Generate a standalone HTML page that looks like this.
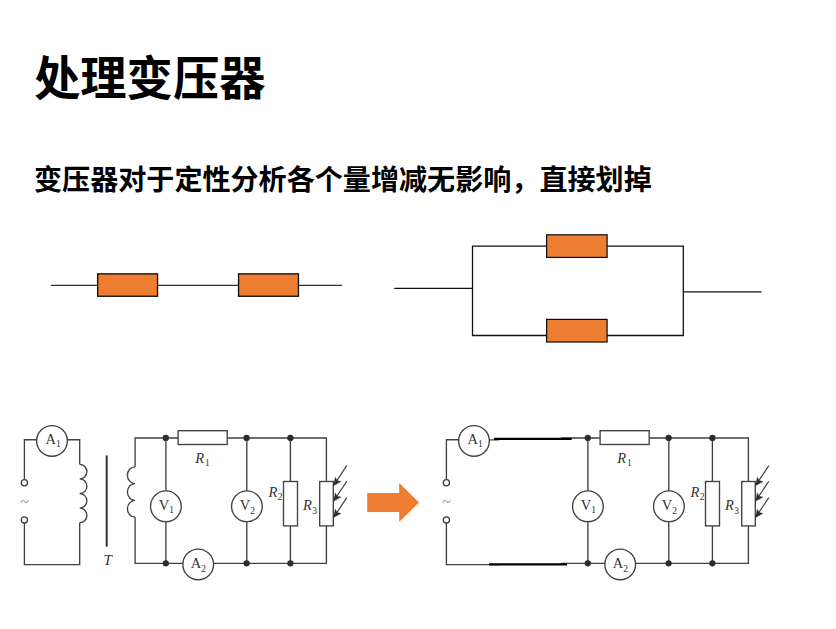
<!DOCTYPE html>
<html lang="zh"><head><meta charset="utf-8"><title>处理变压器</title>
<style>
html,body{margin:0;padding:0;background:#fff;}
body{position:relative;width:836px;height:629px;overflow:hidden;font-family:"Liberation Sans","Noto Sans CJK SC",sans-serif;}
svg{position:absolute;left:0;top:0;display:block;}
</style></head><body>
<svg width="836" height="629" viewBox="0 0 836 629">
<text x="34" y="94.5" font-family="'Liberation Sans','Noto Sans CJK SC',sans-serif" font-size="46.3" font-weight="bold" fill="#000">处理变压器</text>
<text x="34" y="190.3" font-family="'Liberation Sans','Noto Sans CJK SC',sans-serif" font-size="28.08" font-weight="bold" fill="#000">变压器对于定性分析各个量增减无影响，直接划掉</text>
<path d="M50.9,285.35 H342" stroke="#303030" stroke-width="1.25" fill="none"/>
<rect x="97.65" y="273.85" width="59.9" height="22.4" fill="#ED7D31" stroke="#0a0a0a" stroke-width="1.3"/>
<rect x="238.55" y="273.85" width="59.9" height="22.4" fill="#ED7D31" stroke="#0a0a0a" stroke-width="1.3"/>
<path d="M394.2,288.4 H472.5 M472.5,246.2 H683.3 V335.5 H472.5 Z M683.3,291.8 H761.5" stroke="#111" stroke-width="1.3" fill="none"/>
<rect x="546.6" y="234.8" width="60.5" height="22.6" fill="#ED7D31" stroke="#0c0c0c" stroke-width="1.2"/>
<rect x="546.6" y="319.4" width="60.5" height="22.6" fill="#ED7D31" stroke="#0c0c0c" stroke-width="1.2"/>
<path d="M367.2,493 H399.2 V483.1 L419,502.5 L399.2,521.9 V511.9 H367.2 Z" fill="#ED7D31"/>
<g transform="translate(0,0)" fill="none" stroke="#414141" stroke-width="1.35">
<path d="M37,439.7 H24.4 V479.6 M24.4,523 V564.6 H79.7 V522.7 M79.7,464.3 V439.7 H67"/>
<path d="M79.7,464.3 a7.2,7.30 0 0 1 0,14.60 a7.2,7.30 0 0 1 0,14.60 a7.2,7.30 0 0 1 0,14.60 a7.2,7.30 0 0 1 0,14.60" stroke-linejoin="miter"/>
<path d="M106.7,455.4 V546.7" stroke="#333" stroke-width="2"/>
<path d="M135.1,466.8 a7.7,8.40 0 0 0 0,16.80 a7.7,8.40 0 0 0 0,16.80 a7.7,8.40 0 0 0 0,16.80" stroke-linejoin="miter"/>
<path d="M135.1,466.8 V438.0 H178.1 M135.1,517.2 V563.3 H183"/>
<circle cx="24.4" cy="482.7" r="3.1"/>
<circle cx="24.4" cy="519.9" r="3.1"/>
<path d="M227.2,438.0 H326.4 V481.5 M326.4,525.9 V563.3 H213.5"/>
<path d="M165.9,438.0 V490.8 M165.9,521.6 V563.3 M246.8,438.0 V490.8 M246.8,521.6 V563.3"/>
<path d="M290.4,438.0 V481.5 M290.4,525.9 V563.3"/>
<rect x="178.1" y="430.7" width="49.1" height="13.8"/>
<rect x="283.5" y="481.5" width="14" height="44.4"/>
<rect x="319.7" y="481.5" width="13.6" height="44.4"/>
<circle cx="52" cy="440.9" r="15.35"/>
<circle cx="165.9" cy="506.3" r="15.35"/>
<circle cx="246.9" cy="506.3" r="15.35"/>
<circle cx="198.2" cy="564.4" r="15.35"/>
<circle cx="165.8" cy="437.9" r="3.15" fill="#2c2c2c" stroke="none"/>
<circle cx="165.8" cy="563.3" r="3.15" fill="#2c2c2c" stroke="none"/>
<circle cx="246.6" cy="437.9" r="3.15" fill="#2c2c2c" stroke="none"/>
<circle cx="246.6" cy="563.3" r="3.15" fill="#2c2c2c" stroke="none"/>
<circle cx="290.4" cy="437.9" r="3.15" fill="#2c2c2c" stroke="none"/>
<circle cx="290.4" cy="563.3" r="3.15" fill="#2c2c2c" stroke="none"/>
<g transform="translate(0,0)"><path d="M346.8,465.7 L336.6,480.9" stroke-width="1.2"/><path d="M333.5,485.7 L335.3,477.3 L337,480.6 L340.9,481.5 Z" fill="#2c2c2c" stroke="#2c2c2c" stroke-width="0.4" stroke-linejoin="miter"/></g>
<g transform="translate(0,15.6)"><path d="M346.8,465.7 L336.6,480.9" stroke-width="1.2"/><path d="M333.5,485.7 L335.3,477.3 L337,480.6 L340.9,481.5 Z" fill="#2c2c2c" stroke="#2c2c2c" stroke-width="0.4" stroke-linejoin="miter"/></g>
<g transform="translate(0,31.9)"><path d="M346.8,465.7 L336.6,480.9" stroke-width="1.2"/><path d="M333.5,485.7 L335.3,477.3 L337,480.6 L340.9,481.5 Z" fill="#2c2c2c" stroke="#2c2c2c" stroke-width="0.4" stroke-linejoin="miter"/></g>
<text x="24.4" y="506.5" text-anchor="middle" font-family="'Liberation Serif',serif" font-size="15.5" fill="#7d7d7d" stroke="none">~</text>
</g>
<g transform="translate(0,0)" fill="#333" font-family="'Liberation Serif',serif" font-size="14.5">
<text x="45.6" y="443.9">A<tspan dy="2.9" font-size="9.5">1</tspan></text>
<text x="158.7" y="510.1">V<tspan dy="3.2" font-size="9.5">1</tspan></text>
<text x="239.8" y="510.4">V<tspan dy="3.2" font-size="9.5">2</tspan></text>
<text x="190.8" y="568.3">A<tspan dy="3.5" font-size="9.5">2</tspan></text>
<text x="195.3" y="462.5"><tspan font-style="italic">R</tspan><tspan dx="0.8" dy="3.2" font-size="9.5">1</tspan></text>
<text x="268.6" y="496.6"><tspan font-style="italic">R</tspan><tspan dx="0.3" dy="3" font-size="9.5">2</tspan></text>
<text x="303" y="510.3"><tspan font-style="italic">R</tspan><tspan dx="0.3" dy="3.3" font-size="9.5">3</tspan></text>
<text x="103.4" y="564.6" font-style="italic" font-size="15">T</text>
</g>
<g transform="translate(422,0)" fill="none" stroke="#414141" stroke-width="1.35">
<path d="M37,439.7 H24.4 V479.6 M24.4,523 V564.6 H77 M67,439.8 H77"/>
<path d="M139,438.0 H178.1 M139,563.4 H183"/>
<circle cx="24.4" cy="482.7" r="3.1"/>
<circle cx="24.4" cy="519.9" r="3.1"/>
<path d="M227.2,438.0 H326.4 V481.5 M326.4,525.9 V563.3 H213.5"/>
<path d="M165.9,438.0 V490.8 M165.9,521.6 V563.3 M246.8,438.0 V490.8 M246.8,521.6 V563.3"/>
<path d="M290.4,438.0 V481.5 M290.4,525.9 V563.3"/>
<rect x="178.1" y="430.7" width="49.1" height="13.8"/>
<rect x="283.5" y="481.5" width="14" height="44.4"/>
<rect x="319.7" y="481.5" width="13.6" height="44.4"/>
<circle cx="52" cy="440.9" r="15.35"/>
<circle cx="165.9" cy="506.3" r="15.35"/>
<circle cx="246.9" cy="506.3" r="15.35"/>
<circle cx="198.2" cy="564.4" r="15.35"/>
<circle cx="165.8" cy="437.9" r="3.15" fill="#2c2c2c" stroke="none"/>
<circle cx="165.8" cy="563.3" r="3.15" fill="#2c2c2c" stroke="none"/>
<circle cx="246.6" cy="437.9" r="3.15" fill="#2c2c2c" stroke="none"/>
<circle cx="246.6" cy="563.3" r="3.15" fill="#2c2c2c" stroke="none"/>
<circle cx="290.4" cy="437.9" r="3.15" fill="#2c2c2c" stroke="none"/>
<circle cx="290.4" cy="563.3" r="3.15" fill="#2c2c2c" stroke="none"/>
<g transform="translate(0,0)"><path d="M346.8,465.7 L336.6,480.9" stroke-width="1.2"/><path d="M333.5,485.7 L335.3,477.3 L337,480.6 L340.9,481.5 Z" fill="#2c2c2c" stroke="#2c2c2c" stroke-width="0.4" stroke-linejoin="miter"/></g>
<g transform="translate(0,15.6)"><path d="M346.8,465.7 L336.6,480.9" stroke-width="1.2"/><path d="M333.5,485.7 L335.3,477.3 L337,480.6 L340.9,481.5 Z" fill="#2c2c2c" stroke="#2c2c2c" stroke-width="0.4" stroke-linejoin="miter"/></g>
<g transform="translate(0,31.9)"><path d="M346.8,465.7 L336.6,480.9" stroke-width="1.2"/><path d="M333.5,485.7 L335.3,477.3 L337,480.6 L340.9,481.5 Z" fill="#2c2c2c" stroke="#2c2c2c" stroke-width="0.4" stroke-linejoin="miter"/></g>
<text x="24.4" y="506.5" text-anchor="middle" font-family="'Liberation Serif',serif" font-size="15.5" fill="#7d7d7d" stroke="none">~</text>
</g>
<g transform="translate(422,0)" fill="#333" font-family="'Liberation Serif',serif" font-size="14.5">
<text x="45.6" y="443.9">A<tspan dy="2.9" font-size="9.5">1</tspan></text>
<text x="158.7" y="510.1">V<tspan dy="3.2" font-size="9.5">1</tspan></text>
<text x="239.8" y="510.4">V<tspan dy="3.2" font-size="9.5">2</tspan></text>
<text x="190.8" y="568.3">A<tspan dy="3.5" font-size="9.5">2</tspan></text>
<text x="195.3" y="462.5"><tspan font-style="italic">R</tspan><tspan dx="0.8" dy="3.2" font-size="9.5">1</tspan></text>
<text x="268.6" y="496.6"><tspan font-style="italic">R</tspan><tspan dx="0.3" dy="3" font-size="9.5">2</tspan></text>
<text x="303" y="510.3"><tspan font-style="italic">R</tspan><tspan dx="0.3" dy="3.3" font-size="9.5">3</tspan></text>
</g>
<path d="M494,438.9 H571.7 M489,564.3 H567" stroke="#000" stroke-width="2.3" fill="none"/>
</svg>
</body></html>
